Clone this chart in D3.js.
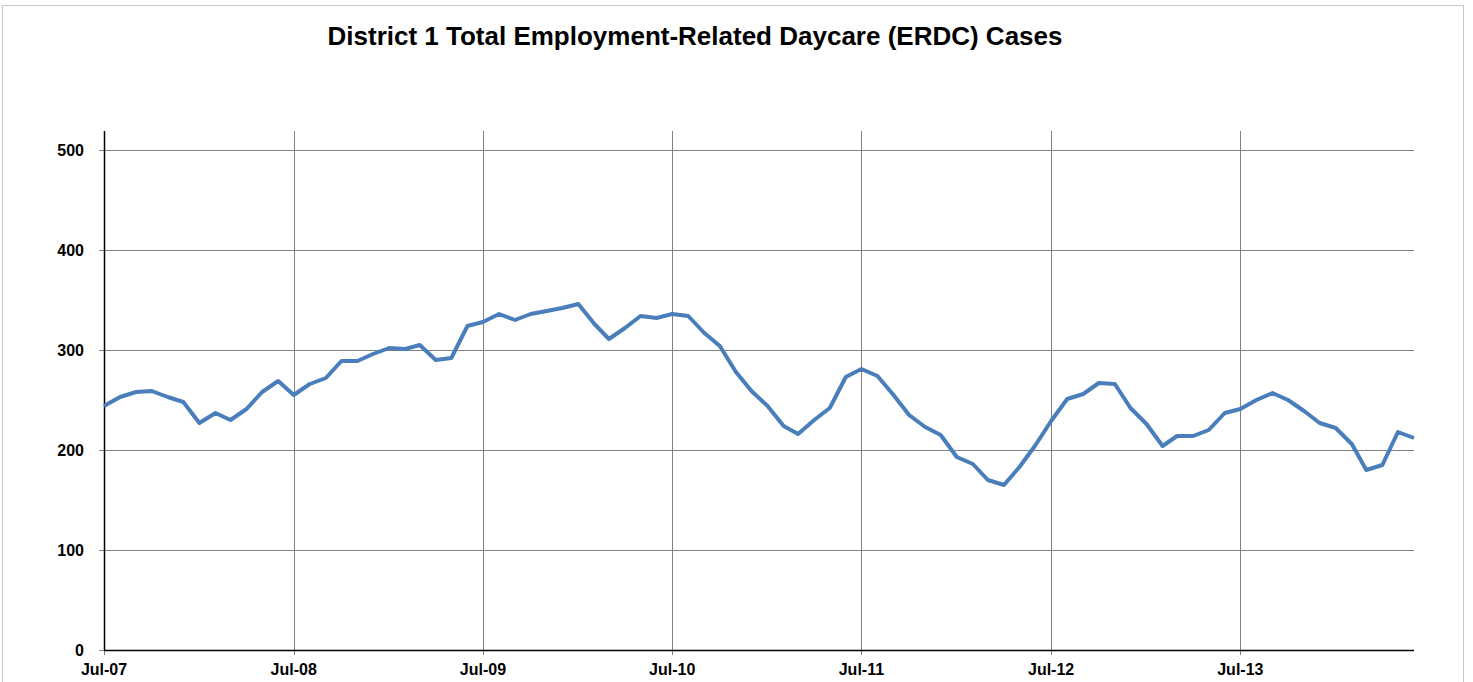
<!DOCTYPE html>
<html lang="en">
<head>
<meta charset="UTF-8">
<title>ERDC Cases</title>
<script src="https://d3js.org/d3.v7.min.js"></script>
<style>
  body { margin: 0; background: #fff; }
  text { font-family: "Liberation Sans", Arial, sans-serif; }
</style>
</head>
<body>
<script>
// monthly cases, Jul-07 .. Jun-14
var startMonth = "2007-07";
var cases = [
  244, 253, 258, 259, 253, 248, 227, 237, 230, 241, 258, 269,
  255, 266, 272, 289, 289, 296, 302, 301, 305, 290, 292, 324,
  328, 336, 330, 336, 339, 342, 346, 326, 311, 322, 334, 332,
  336, 334, 317, 304, 278, 259, 244, 224, 216, 230, 242, 273,
  281, 274, 255, 235, 223, 215, 193, 186, 170, 165, 183, 205,
  229, 251, 256, 267, 266, 242, 226, 204, 214, 214, 220, 237,
  241, 250, 257, 250, 239, 227, 222, 206, 180, 185, 218, 212
];
var yTicks = [0, 100, 200, 300, 400, 500];
var xTickLabels = ["Jul-07", "Jul-08", "Jul-09", "Jul-10", "Jul-11", "Jul-12", "Jul-13"];

var width = 1473, height = 682;
var plotLeft = 104, plotRight = 1414, plotTop = 131, plotBottom = 650;

var parse = d3.timeParse("%Y-%m");
var t0 = parse(startMonth);
var data = cases.map(function (v, i) {
  return { date: d3.timeMonth.offset(t0, i), value: v };
});

var svg = d3.select("body").append("svg")
  .attr("width", width)
  .attr("height", height);

// outer frame
svg.append("rect")
  .attr("x", 2.5).attr("y", 5.5)
  .attr("width", 1461).attr("height", 700)
  .attr("fill", "none")
  .attr("stroke", "#c8c8c8")
  .attr("stroke-width", 1);

svg.append("text")
  .attr("x", 695).attr("y", 45)
  .attr("text-anchor", "middle")
  .attr("font-size", "26px")
  .attr("font-weight", "bold")
  .text("District 1 Total Employment-Related Daycare (ERDC) Cases");

var x = d3.scaleTime()
  .domain([t0, data[data.length - 1].date])
  .range([plotLeft, plotRight]);

var y = d3.scaleLinear()
  .domain([0, 500])
  .range([plotBottom, plotBottom - 500]);

var tickDates = xTickLabels.map(function (s) { return d3.timeParse("%b-%y")(s); });

// horizontal grid
svg.append("g")
  .selectAll("line")
  .data(yTicks)
  .enter().append("line")
  .attr("x1", plotLeft - 5).attr("x2", plotRight)
  .attr("y1", function (d) { return Math.round(y(d)) + 0.5; })
  .attr("y2", function (d) { return Math.round(y(d)) + 0.5; })
  .attr("stroke", "#808080")
  .attr("stroke-width", 1);

// vertical grid
svg.append("g")
  .selectAll("line")
  .data(tickDates)
  .enter().append("line")
  .attr("x1", function (d) { return Math.round(x(d)) + 0.5; })
  .attr("x2", function (d) { return Math.round(x(d)) + 0.5; })
  .attr("y1", plotTop).attr("y2", plotBottom + 5)
  .attr("stroke", "#808080")
  .attr("stroke-width", 1);

// axes lines
svg.append("line")
  .attr("x1", plotLeft + 0.5).attr("x2", plotLeft + 0.5)
  .attr("y1", plotTop).attr("y2", plotBottom)
  .attr("stroke", "#000").attr("stroke-width", 1.5);
svg.append("line")
  .attr("x1", plotLeft).attr("x2", plotRight)
  .attr("y1", plotBottom + 0.5).attr("y2", plotBottom + 0.5)
  .attr("stroke", "#000").attr("stroke-width", 1.5);

// y labels
svg.append("g")
  .selectAll("text")
  .data(yTicks)
  .enter().append("text")
  .attr("x", 84)
  .attr("y", function (d) { return y(d) + 6; })
  .attr("text-anchor", "end")
  .attr("font-size", "16px")
  .attr("font-weight", "bold")
  .text(function (d) { return d; });

// x labels
svg.append("g")
  .selectAll("text")
  .data(tickDates)
  .enter().append("text")
  .attr("x", function (d) { return x(d); })
  .attr("y", 675)
  .attr("text-anchor", "middle")
  .attr("font-size", "16px")
  .attr("font-weight", "bold")
  .text(function (d, i) { return xTickLabels[i]; });

var line = d3.line()
  .x(function (d) { return x(d.date); })
  .y(function (d) { return y(d.value); });

svg.append("path")
  .datum(data)
  .attr("d", line)
  .attr("fill", "none")
  .attr("stroke", "#4a7ebb")
  .attr("stroke-width", 4)
  .attr("stroke-linejoin", "round");
</script>
</body>
</html>
